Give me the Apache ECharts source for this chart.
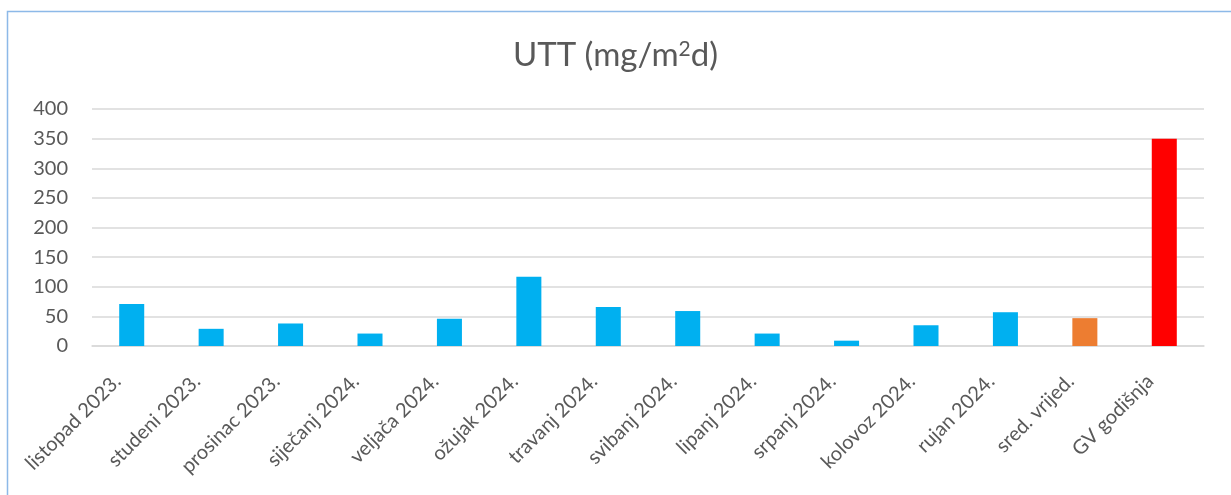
<!DOCTYPE html>
<html><head><meta charset="utf-8">
<script src="https://cdn.jsdelivr.net/npm/echarts@6/dist/echarts.min.js"></script>
<style>html,body{margin:0;padding:0;background:#fff}#c{width:1231px;height:495px}</style>
</head><body><div id="c"></div>
<script>
const categories = ['listopad 2023.','studeni 2023.','prosinac 2023.','siječanj 2024.','veljača 2024.','ožujak 2024.','travanj 2024.','svibanj 2024.','lipanj 2024.','srpanj 2024.','kolovoz 2024.','rujan 2024.','sred. vrijed.','GV godišnja'];
const values = [71,29,38,21,46,117,66,59,21,9,35,57,47,350];
const barColors = ['#00B0F0','#00B0F0','#00B0F0','#00B0F0','#00B0F0','#00B0F0','#00B0F0','#00B0F0','#00B0F0','#00B0F0','#00B0F0','#00B0F0','#ED7D31','#FF0000'];
const yTicks = [0,50,100,150,200,250,300,350,400];

const chart = echarts.init(document.getElementById('c'));
chart.setOption({
  animation:false,
  textStyle:{fontFamily:'Lato'},
  graphic:[{type:'rect',shape:{x:7.5,y:11.5,width:1400,height:700},style:{fill:'none',stroke:'#8DB9E8',lineWidth:1.5}}],
  title:{text:'UTT (mg/m{sup|2}d)',left:'center',top:34,
    textStyle:{fontFamily:'Lato',fontSize:33,fontWeight:'normal',color:'#595959',
      rich:{sup:{fontSize:21,verticalAlign:'top',color:'#595959',padding:[0,0,12,0],fontFamily:'Lato'}}}},
  grid:{left:92,right:27,top:109,bottom:149,containLabel:false},
  xAxis:{type:'category',data:categories,
    axisLine:{lineStyle:{color:'#D9D9D9',width:1.5}},axisTick:{show:false},
    axisLabel:{rotate:45,color:'#595959',fontSize:20,margin:32,interval:0,verticalAlign:'bottom',padding:[0,10,0,0],fontFamily:'Lato'}},
  yAxis:{type:'value',min:yTicks[0],max:yTicks[yTicks.length-1],interval:50,
    axisLine:{show:false},axisTick:{show:false},
    splitLine:{lineStyle:{color:'#D9D9D9',width:1.5}},
    axisLabel:{color:'#595959',fontSize:20,margin:24,fontFamily:'Lato'}},
  series:[{type:'bar',barWidth:'31.5%',
    data:values.map((v,i)=>({value:v,itemStyle:{color:barColors[i]}}))}]
});
</script></body></html>
